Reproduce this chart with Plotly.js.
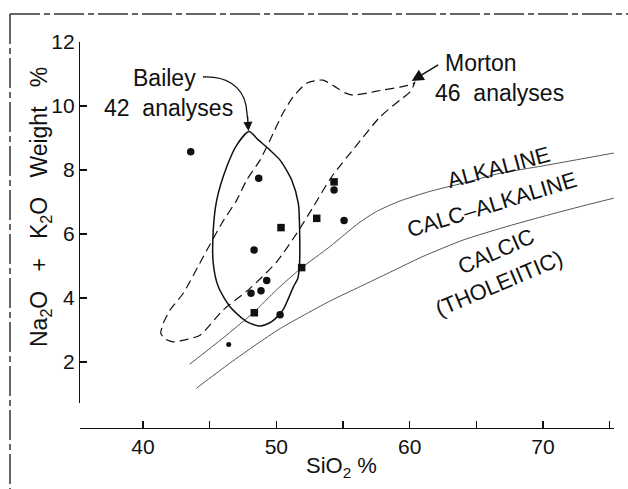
<!DOCTYPE html>
<html>
<head>
<meta charset="utf-8">
<script src="https://cdn.plot.ly/plotly-3.0.1.min.js"></script>
<style>html,body{margin:0;padding:0;background:#fff;}#chart{width:628px;height:489px;}</style>
</head>
<body>
<div id="chart"></div>
<script>
// ---- data (SiO2 %, Na2O + K2O wt %) ----
const mortonSiO2 = [60.4, 60.03, 59.28, 57.78, 56.03, 54.15, 52.77, 51.53, 50.03, 48.03, 46.02, 44.28, 43.15, 42.27, 41.65, 41.33, 41.52, 42.03, 43.02, 44.52, 45.9, 47.03, 47.78, 48.78, 49.53, 50.5, 51.25, 52.3, 53.5, 54.55, 55.15, 55.75, 56.88, 58.0, 59.28, 60.25, 60.4];
const mortonAlk  = [10.75, 10.44, 10.19, 9.66, 8.78, 7.79, 6.85, 6.02, 5.13, 4.30, 3.63, 2.84, 2.69, 2.63, 2.72, 2.90, 3.21, 3.63, 4.15, 5.29, 6.33, 7.06, 7.69, 8.31, 8.94, 9.78, 10.28, 10.72, 10.81, 10.56, 10.41, 10.34, 10.41, 10.5, 10.59, 10.69, 10.75];

const baileySiO2 = [47.95, 48.65, 49.5, 50.28, 51.15, 51.65, 51.75, 51.73, 51.6, 51.28, 50.5, 49.65, 48.78, 47.78, 46.53, 45.65, 45.27, 45.27, 45.53, 46.28, 47.03, 47.95];
const baileyAlk  = [9.2, 8.94, 8.63, 8.31, 7.69, 6.96, 6.02, 4.98, 4.6, 4.35, 3.63, 3.26, 3.125, 3.26, 3.73, 4.35, 5.08, 6.13, 7.06, 8.1, 8.78, 9.2];

const alkBoundarySiO2 = [43.5, 46, 48.3, 50, 51.85, 54, 56.2, 57.5, 59.2, 61.5, 64, 66.8, 70, 75.3];
const alkBoundaryAlk  = [1.93, 2.75, 3.55, 4.25, 4.93, 5.6, 6.35, 6.7, 7.02, 7.33, 7.59, 7.9, 8.13, 8.53];

const calcBoundarySiO2 = [44.0, 46.5, 48.5, 50.3, 52, 54, 56.3, 58.5, 61, 64, 67, 70, 73, 75.3];
const calcBoundaryAlk  = [1.18, 1.96, 2.55, 3.05, 3.45, 3.9, 4.36, 4.8, 5.3, 5.81, 6.2, 6.55, 6.88, 7.12];

const circleSiO2 = [43.58, 48.68, 54.33, 55.08, 48.33, 49.28, 48.1, 48.85, 50.28];
const circleAlk  = [8.57, 7.74, 7.375, 6.42, 5.5, 4.55, 4.15, 4.23, 3.48];
const squareSiO2 = [54.33, 53.03, 50.35, 51.9, 48.35];
const squareAlk  = [7.63, 6.49, 6.2, 4.95, 3.54];
const smallSiO2 = [46.43];
const smallAlk  = [2.55];

const xTickVals = [40, 50, 60, 70];
const yTickVals = [2, 4, 6, 8, 10, 12];

const FONT = 'Liberation Sans, Arial, Helvetica, sans-serif';
const INK = '#111';

const traces = [
  {x: mortonSiO2, y: mortonAlk, mode: 'lines', line: {color: INK, width: 1.2, dash: '9px,5px', shape: 'spline', smoothing: 0.6}},
  {x: baileySiO2, y: baileyAlk, mode: 'lines', line: {color: INK, width: 1.5, shape: 'spline', smoothing: 0.7}},
  {x: alkBoundarySiO2, y: alkBoundaryAlk, mode: 'lines', line: {color: '#555', width: 1, shape: 'spline', smoothing: 0.6}},
  {x: calcBoundarySiO2, y: calcBoundaryAlk, mode: 'lines', line: {color: '#555', width: 1, shape: 'spline', smoothing: 0.6}},
  {x: circleSiO2, y: circleAlk, mode: 'markers', marker: {symbol: 'circle', size: 7.5, color: INK}},
  {x: squareSiO2, y: squareAlk, mode: 'markers', marker: {symbol: 'square', size: 7.5, color: INK}},
  {x: smallSiO2, y: smallAlk, mode: 'markers', marker: {symbol: 'circle', size: 5, color: INK}}
];

const nb = '\u00A0';
const layout = {
  width: 628, height: 489,
  margin: {l: 80, r: 14, t: 42, b: 61},
  paper_bgcolor: '#fff', plot_bgcolor: '#fff',
  showlegend: false, hovermode: false,
  font: {family: FONT, color: INK, size: 21},
  xaxis: {
    range: [35.275, 75.325], showgrid: false, zeroline: false,
    showline: true, linecolor: INK, linewidth: 1.2,
    ticks: 'inside', ticklen: 7, tickwidth: 1.2, tickcolor: INK,
    tickvals: xTickVals, tickfont: {size: 21},
    minor: {dtick: 5, tick0: 0, ticks: 'inside', ticklen: 7, tickwidth: 1.2, tickcolor: INK},
    anchor: 'free', position: 0
  },
  yaxis: {
    domain: [0.0648, 1], range: [0.72, 12], showgrid: false, zeroline: false,
    showline: true, linecolor: INK, linewidth: 1.2,
    ticks: 'inside', ticklen: 7, tickwidth: 1.2, tickcolor: INK,
    tickvals: yTickVals, tickfont: {size: 21}
  },
  annotations: [
    {xref: 'paper', yref: 'paper', x: (40 - 80) / 534, y: (428 - 207) / 386, xanchor: 'center', yanchor: 'middle',
     textangle: -90, showarrow: false, font: {size: 23},
     text: 'Na<sub>2</sub>O' + nb + nb + nb + '+' + nb + nb + nb + 'K<sub>2</sub>O' + nb + nb + nb + 'Weight' + nb + nb + nb + '%'},
    {xref: 'paper', yref: 'paper', x: (341 - 80) / 534, y: (428 - 467) / 386, xanchor: 'center', yanchor: 'middle',
     showarrow: false, font: {size: 22}, text: 'SiO<sub>2</sub> %'},
    {xref: 'paper', yref: 'paper', x: (164 - 80) / 534, y: (428 - 78) / 386, xanchor: 'center', yanchor: 'middle',
     showarrow: false, font: {size: 23}, text: 'Bailey'},
    {xref: 'paper', yref: 'paper', x: (168 - 80) / 534, y: (428 - 108) / 386, xanchor: 'center', yanchor: 'middle',
     showarrow: false, font: {size: 23}, text: '42' + nb + nb + 'analyses'},
    {xref: 'paper', yref: 'paper', x: (481 - 80) / 534, y: (428 - 63) / 386, xanchor: 'center', yanchor: 'middle',
     showarrow: false, font: {size: 23}, text: 'Morton'},
    {xref: 'paper', yref: 'paper', x: (499 - 80) / 534, y: (428 - 93) / 386, xanchor: 'center', yanchor: 'middle',
     showarrow: false, font: {size: 23}, text: '46' + nb + nb + 'analyses'},
    {xref: 'paper', yref: 'paper', x: (498 - 80) / 534, y: (428 - 167) / 386, xanchor: 'center', yanchor: 'middle',
     showarrow: false, font: {size: 22}, textangle: -15, text: 'ALKALINE'},
    {xref: 'paper', yref: 'paper', x: (492 - 80) / 534, y: (428 - 205) / 386, xanchor: 'center', yanchor: 'middle',
     showarrow: false, font: {size: 22}, textangle: -17, text: 'CALC\u2013ALKALINE'},
    {xref: 'paper', yref: 'paper', x: (496 - 80) / 534, y: (428 - 252) / 386, xanchor: 'center', yanchor: 'middle',
     showarrow: false, font: {size: 22}, textangle: -24, text: 'CALCIC'},
    {xref: 'paper', yref: 'paper', x: (499 - 80) / 534, y: (428 - 283) / 386, xanchor: 'center', yanchor: 'middle',
     showarrow: false, font: {size: 22}, textangle: -23, text: '(THOLEIITIC)'},
    // arrow heads
    {xref: 'x', yref: 'y', x: 47.91, y: 9.22, ax: -1, ay: -16, axref: 'pixel', ayref: 'pixel', text: '',
     showarrow: true, arrowhead: 2, arrowsize: 1.3, arrowwidth: 1.4, arrowcolor: INK},
    {xref: 'x', yref: 'y', x: 60.15, y: 10.78, ax: 28, ay: -17, text: '',
     showarrow: true, arrowhead: 2, arrowsize: 1.6, arrowwidth: 1.5, arrowcolor: INK}
  ],
  shapes: [
    {type: 'path', xref: 'x', yref: 'y', path: 'M 44.5 10.906 C 46.225 10.94 47.425 10.625 47.725 10.03 L 47.84 9.62',
     line: {color: INK, width: 1.3}},
    // scanned frame edges
    {type: 'line', xref: 'paper', yref: 'paper', x0: (10 - 80) / 534, x1: (628 - 80) / 534, y0: (428 - 14) / 386, y1: (428 - 14) / 386,
     line: {color: '#333', width: 1.5, dash: '30px,4px,6px,4px'}},
    {type: 'line', xref: 'paper', yref: 'paper', x0: (10 - 80) / 534, x1: (10 - 80) / 534, y0: (428 - 14) / 386, y1: (428 - 489) / 386,
     line: {color: '#333', width: 1.5, dash: '30px,4px,6px,4px'}}
  ]
};

Plotly.newPlot('chart', traces, layout, {displayModeBar: false, staticPlot: true});
</script>
</body>
</html>
